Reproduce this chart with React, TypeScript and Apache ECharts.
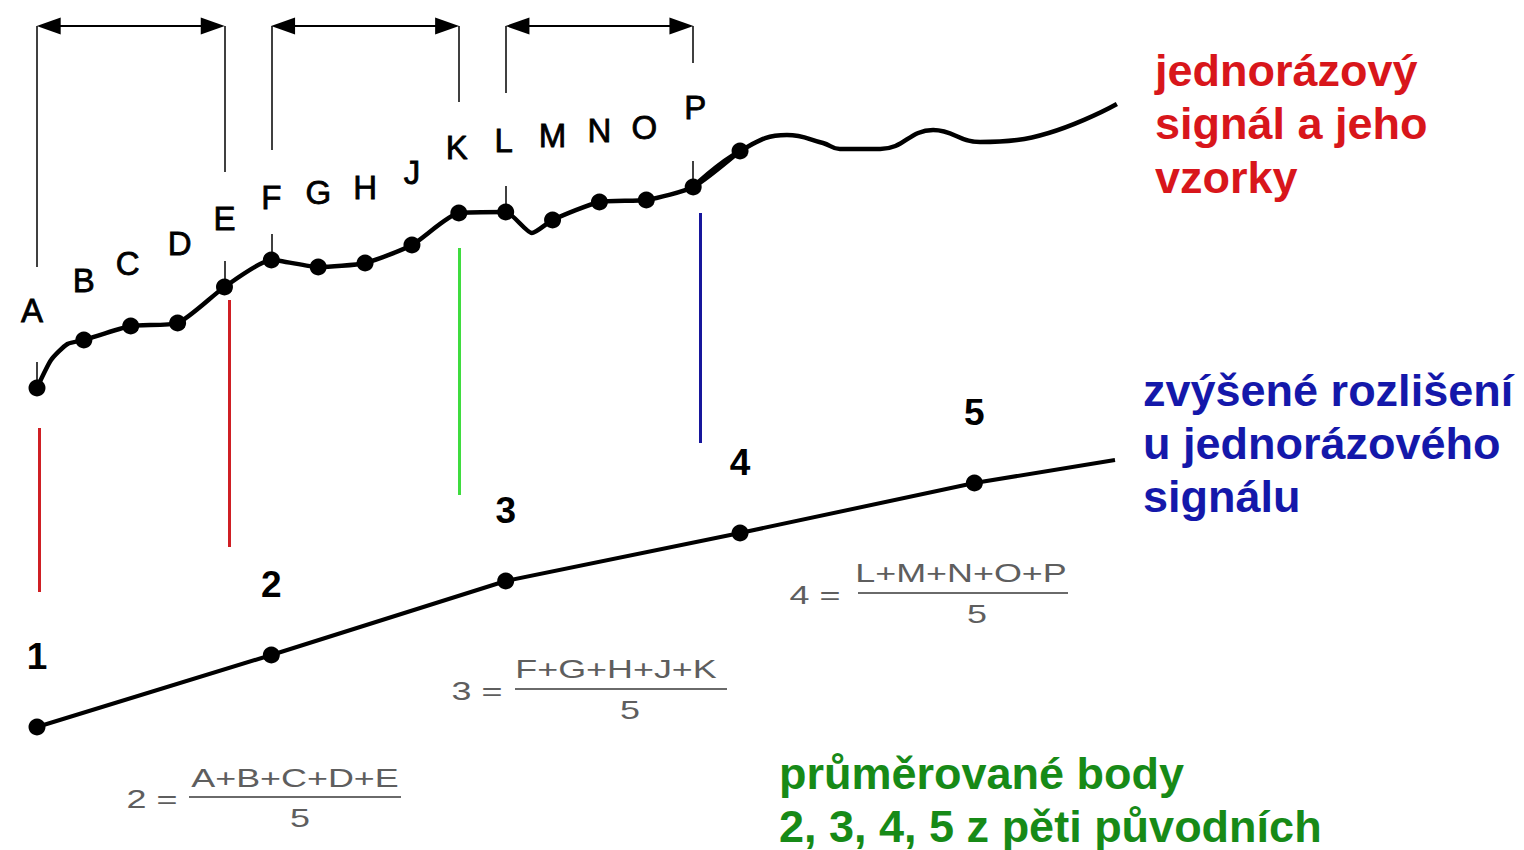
import React, { useEffect, useRef } from 'react';
import * as echarts from 'echarts';

// ---------- data (x = sample index, y = signal level) ----------
const SAMPLE_LABELS = ['A', 'B', 'C', 'D', 'E', 'F', 'G', 'H', 'J', 'K', 'L', 'M', 'N', 'O', 'P', ''];
const SAMPLE_VALUES = [46.2, 51.0, 52.4, 52.7, 56.3, 59.0, 58.3, 58.7, 60.5, 63.7, 63.8, 63.0, 64.8, 65.0, 66.3, 69.9];

// extra points of the continuous (single-shot) signal between / after the samples
const SIGNAL_EXTRA_X = [0.3, 0.65, 10.56, 16.0, 16.77, 17.13, 17.99, 19.12, 20.12, 20.91, 23.04];
const SIGNAL_EXTRA_Y = [49.0, 50.6, 61.7, 71.5, 70.7, 70.1, 70.1, 72.0, 70.8, 71.0, 74.6];

// averaged (enhanced resolution) points
const AVG_LABELS = ['1', '2', '3', '4', '5', ''];
const AVG_X = [0, 5, 10, 15, 20, 23];
const AVG_VALUES = [12.3, 19.5, 26.9, 31.7, 36.7, 39.0];

// groups of five samples
const GROUP_STARTS = [0, 5, 10];
const GROUP_ENDS = [4, 9, 14];
const BRACKET_LEVEL = 82.4;
const BRACKET_X = [0, 4, 5, 9, 10, 14];
const BRACKET_BOTTOM = [58.3, 67.8, 70.0, 74.8, 75.7, 78.7];
const TICK_SAMPLES = [0, 4, 5, 10, 14];

// coloured drop lines
const DROP_X = [0.05, 4.1, 9.0, 14.15];
const DROP_TOP = [42.2, 55.0, 60.2, 63.7];
const DROP_BOTTOM = [25.8, 30.3, 35.5, 40.7];
const DROP_COLORS = ['#cf1f24', '#cf1f24', '#3fdc3f', '#17169c'];

// texts
const RED_LINES = ['jednorázový', 'signál a jeho', 'vzorky'];
const BLUE_LINES = ['zvýšené rozlišení', 'u jednorázového', 'signálu'];
const GREEN_LINES = ['průměrované body', '2, 3, 4, 5 z pěti původních'];
const FORMULA_LHS = ['2 =', '3 =', '4 ='];
const FORMULA_NUM = ['A+B+C+D+E', 'F+G+H+J+K', 'L+M+N+O+P'];
const FORMULA_DEN = ['5', '5', '5'];

// ---------- styling ----------
const FONT = '"Liberation Sans", Arial, Helvetica, sans-serif';
const LETTER_DX = [-5, 0, -3, 2, 0, 0, 0, 0, 0, -2, -2, 0, 0, -2, 2, 0];
const LETTER_LIFT = [78, 60, 63, 80, 69, 63, 75, 76, 73, 66, 72, 85, 72, 73, 80, 0];
const ARROW_INSET = 0.25;
const TICK_LEN = 2.6;
const SAMPLED_PART_END = 15; // where the sampled part of the curve ends

const FORMULA_POS = [
  { lhs: [152, 799], bar: [189, 401, 797], num: [295, 778], den: [300, 818] },
  { lhs: [477, 691], bar: [515, 727, 689], num: [616, 669], den: [630, 710] },
  { lhs: [815, 595], bar: [858, 1068, 593], num: [961, 573], den: [977, 614] },
];

function buildOption() {
  const curve: number[][] = SAMPLE_VALUES.map((v, i) => [i, v]);
  SIGNAL_EXTRA_X.forEach((x, i) => curve.push([x, SIGNAL_EXTRA_Y[i]]));
  curve.sort((a, b) => a[0] - b[0]);
  const curveSampled = curve.filter((p) => p[0] <= SAMPLED_PART_END);
  const curveTail = curve.filter((p) => p[0] >= SAMPLED_PART_END - 1);

  const samples = SAMPLE_VALUES.map((v, i) => ({
    value: [i, v],
    name: SAMPLE_LABELS[i],
    label: SAMPLE_LABELS[i]
      ? { show: true, offset: [LETTER_DX[i], -LETTER_LIFT[i]] }
      : { show: false },
  }));

  const avg = AVG_VALUES.map((v, i) => ({
    value: [AVG_X[i], v],
    name: AVG_LABELS[i],
    symbol: AVG_LABELS[i] ? 'circle' : 'none',
    label: AVG_LABELS[i] ? { show: true, offset: [0, -71] } : { show: false },
  }));

  const bracketLines: any[] = [];
  BRACKET_X.forEach((x, i) => {
    bracketLines.push([{ coord: [x, BRACKET_LEVEL] }, { coord: [x, BRACKET_BOTTOM[i]] }]);
  });
  TICK_SAMPLES.forEach((s) => {
    bracketLines.push([{ coord: [s, SAMPLE_VALUES[s]] }, { coord: [s, SAMPLE_VALUES[s] + TICK_LEN] }]);
  });

  const arrows = GROUP_STARTS.map((s, i) => [
    { coord: [s + ARROW_INSET, BRACKET_LEVEL], symbol: 'triangle', symbolSize: [17, 24] },
    { coord: [GROUP_ENDS[i] - ARROW_INSET, BRACKET_LEVEL], symbol: 'triangle', symbolSize: [17, 24] },
  ]);

  const drops = DROP_X.map((x, i) => [
    { coord: [x, DROP_TOP[i]], lineStyle: { color: DROP_COLORS[i], width: 3, type: 'solid' } },
    { coord: [x, DROP_BOTTOM[i]] },
  ]);

  const graphics: any[] = [];
  const addLines = (lines: string[], x: number, y0: number, pitch: number, color: string) => {
    lines.forEach((t, i) =>
      graphics.push({
        type: 'text',
        x,
        y: y0 + i * pitch,
        silent: true,
        style: {
          text: t,
          fill: color,
          fontSize: 45,
          fontWeight: 'bold',
          fontFamily: FONT,
          align: 'left',
          textAlign: 'left',
          verticalAlign: 'middle',
          textVerticalAlign: 'middle',
        },
      })
    );
  };
  addLines(RED_LINES, 1155, 70, 53.5, '#d8161b');
  addLines(BLUE_LINES, 1143, 390, 53, '#1418aa');
  addLines(GREEN_LINES, 779, 773, 53, '#178a17');

  const fText = (t: string, x: number, y: number) => ({
    type: 'text',
    x,
    y,
    scaleX: 1.38,
    silent: true,
    style: {
      text: t,
      fill: '#5e5e5e',
      fontSize: 26,
      fontFamily: FONT,
      align: 'center',
      textAlign: 'center',
      verticalAlign: 'middle',
      textVerticalAlign: 'middle',
    },
  });
  FORMULA_POS.forEach((p, i) => {
    graphics.push(fText(FORMULA_LHS[i], p.lhs[0], p.lhs[1]));
    graphics.push(fText(FORMULA_NUM[i], p.num[0], p.num[1]));
    graphics.push(fText(FORMULA_DEN[i], p.den[0], p.den[1]));
    graphics.push({
      type: 'line',
      silent: true,
      shape: { x1: p.bar[0], y1: p.bar[2], x2: p.bar[1], y2: p.bar[2] },
      style: { stroke: '#6a6a6a', lineWidth: 2 },
    });
  });

  return {
    animation: false,
    backgroundColor: '#ffffff',
    grid: { left: 37, right: 409, top: 0, bottom: 0, containLabel: false },
    xAxis: { type: 'value', min: 0, max: 23, show: false },
    yAxis: { type: 'value', min: 0, max: 85, show: false },
    graphic: graphics,
    series: [
      {
        name: 'signal',
        type: 'line',
        data: curveSampled,
        smooth: 0.2,
        showSymbol: false,
        symbol: 'none',
        clip: false,
        silent: true,
        z: 2,
        lineStyle: { color: '#000', width: 4.5 },
        markLine: {
          silent: true,
          symbol: 'none',
          label: { show: false },
          animation: false,
          lineStyle: { color: '#000', width: 1.5, type: 'solid' },
          data: bracketLines,
        },
      },
      {
        name: 'signal tail',
        type: 'line',
        data: curveTail,
        smooth: 0.45,
        showSymbol: false,
        symbol: 'none',
        clip: false,
        silent: true,
        z: 2,
        lineStyle: { color: '#000', width: 4.5 },
      },
      {
        name: 'arrows',
        type: 'line',
        data: [],
        silent: true,
        markLine: {
          silent: true,
          symbol: ['triangle', 'triangle'],
          symbolSize: 20,
          label: { show: false },
          animation: false,
          lineStyle: { color: '#000', width: 2, type: 'solid' },
          data: arrows,
        },
      },
      {
        name: 'drops',
        type: 'line',
        data: [],
        silent: true,
        markLine: {
          silent: true,
          symbol: 'none',
          label: { show: false },
          animation: false,
          lineStyle: { width: 3, type: 'solid' },
          data: drops,
        },
      },
      {
        name: 'samples',
        type: 'scatter',
        data: samples,
        symbol: 'circle',
        symbolSize: 17,
        clip: false,
        silent: true,
        z: 3,
        itemStyle: { color: '#000', opacity: 1 },
        label: {
          position: 'inside',
          formatter: '{b}',
          color: '#000',
          fontSize: 33,
          fontFamily: FONT,
          textBorderColor: '#000',
          textBorderWidth: 0.8,
        },
      },
      {
        name: 'averaged',
        type: 'line',
        data: avg,
        symbol: 'circle',
        symbolSize: 17,
        showSymbol: true,
        clip: false,
        silent: true,
        z: 3,
        itemStyle: { color: '#000', opacity: 1 },
        lineStyle: { color: '#000', width: 4 },
        label: {
          position: 'inside',
          formatter: '{b}',
          color: '#000',
          fontSize: 37,
          fontWeight: 'bold',
          fontFamily: FONT,
        },
      },
    ],
  };
}

export default function App() {
  const ref = useRef<HTMLDivElement>(null);
  useEffect(() => {
    if (!ref.current) return;
    const chart = echarts.init(ref.current, undefined, { renderer: 'svg' });
    chart.setOption(buildOption() as any);
    return () => chart.dispose();
  }, []);
  return (
    <div
      ref={ref}
      style={{ position: 'absolute', left: 0, top: 0, width: 1524, height: 850, background: '#fff' }}
    />
  );
}
